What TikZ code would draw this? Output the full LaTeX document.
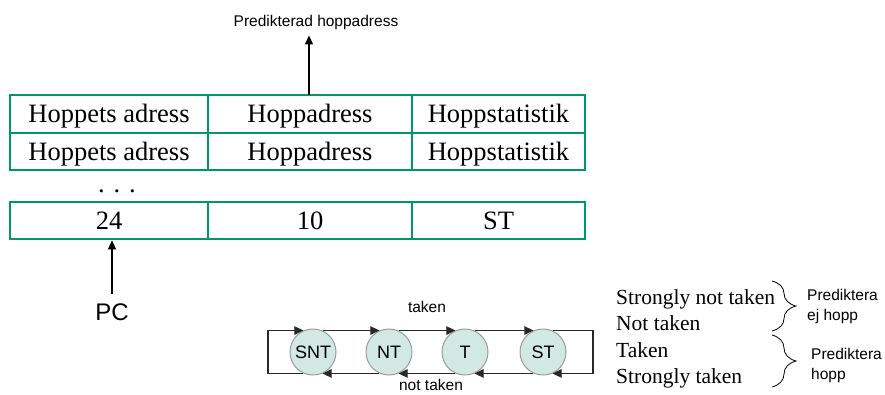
\documentclass[tikz,border=0pt]{standalone}
\usepackage{fontspec}
\setmainfont{Liberation Serif}
\setsansfont{Liberation Sans}
\usetikzlibrary{arrows.meta,decorations.pathreplacing,calc}
\definecolor{tabgreen}{RGB}{0,150,110}
\definecolor{statefill}{RGB}{210,232,226}
\definecolor{stateedge}{RGB}{150,158,156}
\definecolor{arrowgray}{RGB}{40,40,40}
\tikzset{
  cell/.style={draw=tabgreen, line width=2.6pt, inner sep=0pt,
    text height=17.5pt, text depth=0pt,
    font=\fontsize{26.5}{30}\selectfont},
  state/.style={circle, draw=stateedge, line width=1pt, fill=statefill,
    minimum size=46pt, inner sep=0pt, font=\sffamily\fontsize{18}{20}\selectfont},
  sflabel/.style={font=\sffamily\fontsize{15.5}{20}\selectfont, inner sep=0pt},
  statelabel/.style={font=\fontsize{21.5}{24}\selectfont, inner sep=0pt, anchor=base west},
  ptr/.style={line width=1.1pt, -{Triangle[length=9pt,width=8pt]}},
  trans/.style={draw=arrowgray, line width=1.1pt, -{Triangle[length=9pt,width=8.5pt]}},
  bracket/.style={draw=black, line width=0.8pt, decorate,
    decoration={brace, amplitude=24pt}}
}
\begin{document}
\begin{tikzpicture}[x=1pt,y=-1pt]
\useasboundingbox (0,0) rectangle (885,394);

% branch target buffer: two generic rows, ellipsis, and the hit row
\node[cell, minimum width=198pt, minimum height=38pt] (a1) at (109,114) {Hoppets adress};
\node[cell, minimum width=204pt, minimum height=38pt] (b1) at (310,114) {Hoppadress};
\node[cell, minimum width=173pt, minimum height=38pt] (c1) at (498.5,114) {Hoppstatistik};
\node[cell, minimum width=198pt, minimum height=37pt] (a2) at (109,151.5) {Hoppets adress};
\node[cell, minimum width=204pt, minimum height=37pt] (b2) at (310,151.5) {Hoppadress};
\node[cell, minimum width=173pt, minimum height=37pt] (c2) at (498.5,151.5) {Hoppstatistik};
\node[inner sep=0pt, anchor=base, font=\fontsize{26.5}{30}\selectfont] (dots) at (117,192) {.\,\,.\,\,.};
\node[cell, minimum width=198pt, minimum height=37pt] (a3) at (109,220.5) {24};
\node[cell, minimum width=204pt, minimum height=37pt] (b3) at (310,220.5) {10};
\node[cell, minimum width=173pt, minimum height=37pt] (c3) at (498.5,220.5) {ST};

% predicted target output
\node[sflabel] (pred) at (316,22) {Predikterad hoppadress};
\coordinate (predout) at (309,95);
\draw[ptr] (predout) -- ($(predout |- pred.south)+(0,6)$);

% program counter input
\node[font=\sffamily\fontsize{24}{26}\selectfont, inner sep=0pt] (pc) at (112,312) {PC};
\draw[ptr] ($(pc.north)+(0,-9)$) -- (pc.north |- a3.south);

% two-bit saturating counter
\node[state] (snt) at (313,352) {SNT};
\node[state] (nt)  at (389,352) {NT};
\node[state] (t)   at (465,352) {T};
\node[state] (st)  at (543,352) {ST};

\draw[trans] (snt.66) -- (nt.114);
\draw[trans] (nt.66) -- (t.114);
\draw[trans] (t.66) -- (st.114);
\draw[trans] (st.246) -- (t.294);
\draw[trans] (t.246) -- (nt.294);
\draw[trans] (nt.246) -- (snt.294);

\coordinate (loopL) at (268,352);
\coordinate (loopR) at (593,352);
\draw[trans] (snt.246) -| (loopL |- snt.114) -- (snt.114);
\draw[trans] (st.66) -| (loopR |- st.294) -- (st.294);

\node[sflabel] (taken) at (427,307) {taken};
\node[sflabel] (nottaken) at (431,385) {not taken};

% state legend
\node[statelabel] (l1) at (616,304) {Strongly not taken};
\node[statelabel] (l2) at (616,330) {Not taken};
\node[statelabel] (l3) at (616,357) {Taken};
\node[statelabel] (l4) at (616,383) {Strongly taken};

\draw[bracket] (772,281) -- (772,331);
\draw[bracket] (772,335) -- (772,387);

\node[sflabel, align=left, anchor=west] (nojump) at (807,306) {Prediktera\\ej hopp};
\node[sflabel, align=left, anchor=west] (jump) at (811,365) {Prediktera\\hopp};
\end{tikzpicture}
\end{document}
